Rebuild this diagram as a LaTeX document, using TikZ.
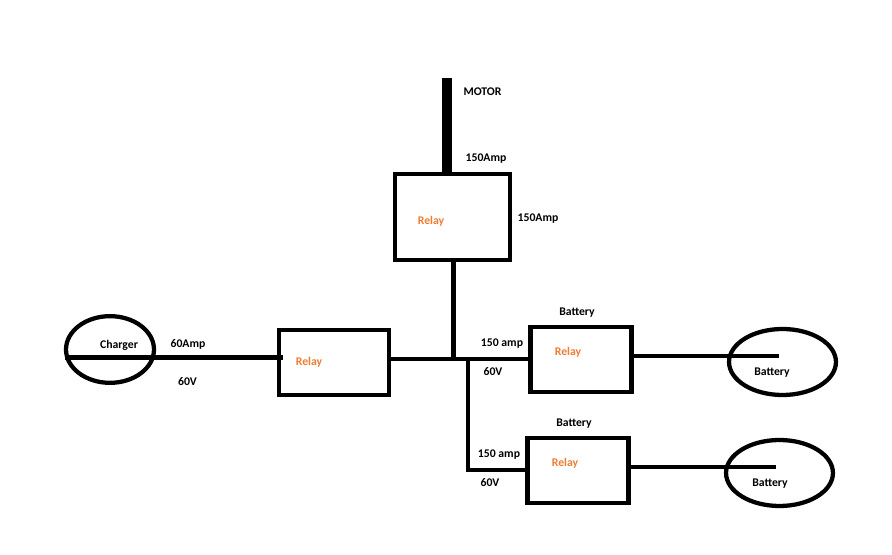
\documentclass[tikz,border=0pt]{standalone}
\usepackage{fontspec}
\setmainfont{Carlito}
\usetikzlibrary{shapes.geometric}
\definecolor{relayorange}{HTML}{ED7D31}
\tikzset{
	relaybox/.style={draw, line width=3.4pt, inner sep=0pt},
	cellround/.style={draw, ellipse, line width=3.2pt, inner sep=0pt},
	wire/.style={line width=3.4pt},
	motorwire/.style={line width=7.5pt},
	tag/.style={font=\fontsize{8.8}{10}\selectfont\bfseries, inner sep=0pt, yshift=-1.1pt},
	relaytag/.style={tag, text=relayorange}
}

\begin{document}
\begin{tikzpicture}[x=0.75pt, y=-0.75pt]
	\useasboundingbox (0,0) rectangle (892,555);
	
	% Relay boxes
	\node[relaybox, minimum width=86.2pt, minimum height=64.5pt] (rtop) at (452.5,217) {};
	\node[relaybox, minimum width=82.5pt, minimum height=48.8pt] (rleft) at (334,362.5) {};
	\node[relaybox, minimum width=76.1pt, minimum height=48.8pt] (rbatone) at (581,359.5) {};
	\node[relaybox, minimum width=76.1pt, minimum height=48.8pt] (rbattwo) at (578,470.5) {};
	
	% Ellipses
	\node[cellround, minimum width=66pt, minimum height=50pt] (charger) at (110,349.5) {};
	\node[cellround, minimum width=80.2pt, minimum height=49.5pt] (batone) at (782.5,362) {};
	\node[cellround, minimum width=80.2pt, minimum height=49.5pt] (battwo) at (779.5,473) {};
	
	% Free ends and junctions
	\coordinate (motortop) at (447,78);
	\coordinate (chargerin) at (65,357.5);
	\coordinate (relayleftin) at (283,357.5);
	\coordinate (relayoneout) at (634,356);
	\coordinate (batoneend) at (779,356);
	\coordinate (relaytwoout) at (631,467);
	\coordinate (battwoend) at (776,467);
	\coordinate (busleft) at (rleft.east |- 0,359);
	\coordinate (busright) at (533,359);
	\coordinate (jmotor) at (453.5,359);
	\coordinate (jbranch) at (468,359);
	\coordinate (branchcorner) at (468,470);
	\coordinate (branchend) at (530,470);
	
	% Wires
	\draw[motorwire] (motortop) -- (motortop |- rtop.north);
	\draw[wire] (jmotor |- rtop.south) -- (jmotor);
	\draw[wire] (chargerin) -- (relayleftin);
	\draw[wire] (busleft) -- (busright);
	\draw[wire] (jbranch) -- (branchcorner) -- (branchend);
	\draw[wire] (relayoneout) -- (batoneend);
	\draw[wire] (relaytwoout) -- (battwoend);
	
	% Labels
	\node[tag] (lmotor) at (482.5,90) {MOTOR};
	\node[tag] (lampa) at (486,157) {150Amp};
	\node[tag] (lampb) at (538,217) {150Amp};
	\node[tag] (lcharger) at (119,344) {Charger};
	\node[tag] (lampc) at (188,343) {60Amp};
	\node[tag] (lvolta) at (187.5,380) {60V};
	\node[tag] (lbata) at (577,311) {Battery};
	\node[tag] (lampd) at (502,342) {150 amp};
	\node[tag] (lvoltb) at (493,370) {60V};
	\node[tag] (lbatb) at (772,371) {Battery};
	\node[tag] (lbatc) at (574,422) {Battery};
	\node[tag] (lampe) at (499,453) {150 amp};
	\node[tag] (lvoltc) at (490,481) {60V};
	\node[tag] (lbatd) at (770,482) {Battery};
	
	% Relay labels
	\node[relaytag] (ltop) at (431,220) {Relay};
	\node[relaytag] (lleft) at (309,361) {Relay};
	\node[relaytag] (lone) at (568,351) {Relay};
	\node[relaytag] (ltwo) at (565,462) {Relay};
\end{tikzpicture}
\end{document}
